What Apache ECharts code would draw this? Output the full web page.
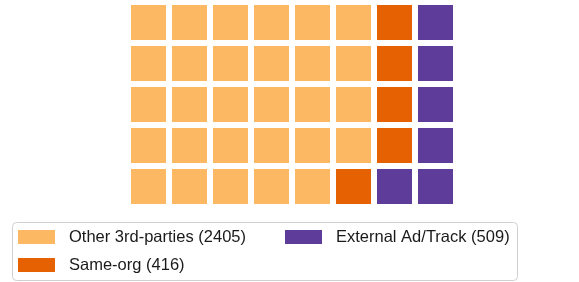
<!DOCTYPE html>
<html>
<head>
<meta charset="utf-8">
<script src="https://cdn.jsdelivr.net/npm/echarts@6/dist/echarts.min.js"></script>
<style>
  html, body { margin: 0; padding: 0; background: #fff; }
  #chart { width: 579px; height: 282px; }
</style>
</head>
<body>
<div id="chart"></div>
<script>
// waffle chart: 8 columns x 5 rows, filled column by column, top to bottom
var categories = ['Other 3rd-parties', 'Same-org', 'External Ad/Track'];
var counts = [2405, 416, 509];
var colors = ['#fdb863', '#e66101', '#5e3c99'];
var nCols = 8;
var nRows = 5;

var total = counts.reduce(function (a, b) { return a + b; }, 0);
var cells = counts.map(function (c) { return Math.round(c / total * nCols * nRows); });

var idx = 0;
var series = categories.map(function (name, i) {
    var pts = [];
    for (var k = 0; k < cells[i]; k++) {
        pts.push([Math.floor(idx / nRows), idx % nRows]);
        idx++;
    }
    return {
        name: name + ' (' + counts[i] + ')',
        type: 'scatter',
        symbol: 'rect',
        symbolSize: [35, 35],
        itemStyle: { color: colors[i], opacity: 1 },
        emphasis: { disabled: true },
        data: pts
    };
});

var legendBase = {
    orient: 'vertical',
    top: 228,
    itemWidth: 37,
    itemHeight: 14,
    itemGap: 10,
    icon: 'rect',
    textStyle: {
        fontFamily: 'Liberation Sans',
        fontSize: 16.5,
        color: '#1a1a1a',
        lineHeight: 18,
        padding: [0, 0, 0, 9]
    },
    padding: 0
};

var chart = echarts.init(document.getElementById('chart'));
chart.setOption({
    animation: false,
    grid: { left: 128, top: 2, width: 328, height: 205 },
    xAxis: { type: 'value', min: -0.5, max: 7.5, show: false },
    yAxis: { type: 'value', min: -0.5, max: 4.5, inverse: true, show: false },
    legend: [
        Object.assign({}, legendBase, { left: 18, data: [series[0].name, series[1].name] }),
        Object.assign({}, legendBase, { left: 285, data: [series[2].name] })
    ],
    graphic: [{
        type: 'rect',
        shape: { x: 12.5, y: 222.5, width: 505, height: 58, r: 4 },
        style: { fill: 'none', stroke: '#d0d0d0', lineWidth: 1 },
        silent: true
    }],
    series: series
});
</script>
</body>
</html>
